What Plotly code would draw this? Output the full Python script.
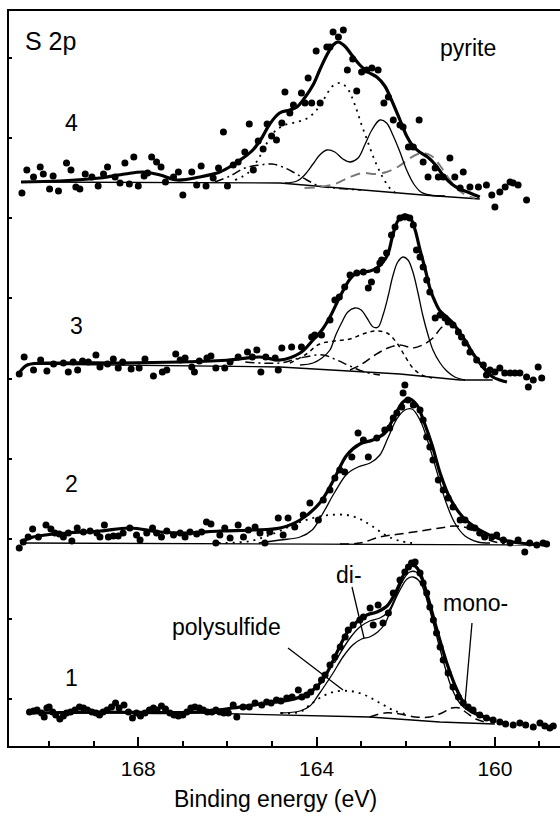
import plotly.graph_objects as go

FONT = "Liberation Sans, Arial, Helvetica, sans-serif"

# vertical stacking offsets of spectra 1..4 (intensity units)
offsets = {"1": 33, "2": 203, "3": 382, "4": 564}

# ---------------- spectrum 4 (pyrite) ----------------
s4_dots_E = [170.61,170.50,170.35,170.20,170.13,169.99,169.91,169.79,169.61,169.51,
             169.40,169.31,169.19,169.04,168.90,168.78,168.69,168.52,168.41,168.30,
             168.20,168.10,168.00,167.87,167.79,167.70,167.59,167.49,167.39,167.21,
             167.10,167.00,166.80,166.69,166.59,166.48,166.32,166.20,166.09,166.00,
             165.87,165.76,165.61,165.51,165.42,165.31,165.20,165.11,165.01,164.90,
             164.78,164.71,164.60,164.52,164.34,164.26,164.19,164.11,164.01,163.92,
             163.77,163.70,163.63,163.51,163.40,163.31,163.19,163.10,162.99,162.88,
             162.76,162.62,162.49,162.39,162.28,162.13,162.06,161.94,161.83,161.70,
             161.61,161.50,161.34,161.27,161.16,161.01,160.90,160.78,160.71,160.56,
             160.37,160.19,160.07,160.00,159.89,159.77,159.66,159.59,159.48,159.29]
s4_dots_I = [-11,12,5,15,8,-7,6,-9,19,12,
             -5,-7,8,5,-4,8,15,5,-1,19,
             -2,25,-4,6,9,25,20,15,0,5,
             10,-13,10,-3,16,-4,4,14,50,-4,
             17,20,30,58,12,41,33,58,46,42,
             59,90,69,77,89,79,104,79,131,79,
             135,135,150,145,152,112,123,91,110,112,
             114,112,79,85,62,57,55,35,35,62,
             20,5,14,5,5,24,5,-6,10,-5,
             -5,-3,-13,-25,-10,-5,0,-1,-3,-18]
s4_env_E = [170.63,169.76,168.86,168.30,167.89,167.51,167.13,166.62,166.17,165.88,
            165.65,165.43,165.23,165.05,164.83,164.60,164.44,164.27,164.08,163.93,
            163.77,163.63,163.52,163.37,163.21,163.03,162.85,162.65,162.47,162.32,
            162.13,161.98,161.84,161.69,161.51,161.33,161.17,160.97,160.79,160.56,160.34]
s4_env_I = [0,1,4,8,10,7,2,5,10,17,
            24,32,44,58,69,72,75,84,97,112,
            127,137,140,136,127,117,110,105,96,82,
            62,46,36,30,25,17,7,-2,-7,-11,-15]
s4_di_E = [164.71,164.44,164.27,164.08,163.93,163.77,163.59,163.41,163.25,163.07,162.92,
           162.76,162.58,162.43,162.29,162.13,161.98,161.82,161.66,161.46,161.12]
s4_di_I = [-1,1,7,18,27,32,30,23,20,24,37,52,62,59,47,30,12,-2,-10,-13,-14]
s4_poly_E = [165.83,165.54,165.32,165.14,164.93,164.71,164.44,164.20,164.00,163.82,
             163.64,163.46,163.30,163.14,162.99,162.85,162.70,162.52,162.32,162.13]
s4_poly_I = [2,9,22,37,51,57,60,64,72,84,96,99,93,77,57,40,22,5,-8,-13]
s4_ox_E = [166.28,165.94,165.61,165.27,165.00,164.76,164.49,164.22,163.93,163.59,163.00]
s4_ox_I = [0,6,14,17,18,15,9,2,-4,-6,-8]
s4_mono_E = [164.27,163.93,163.59,163.25,162.96,162.70,162.43,162.18,161.96,161.78,
             161.60,161.42,161.24,161.06,160.86,160.66,160.45]
s4_mono_I = [-6,-5,-2,5,9,8,10,15,22,27,29,26,17,5,-6,-13,-16]
s4_bg_E = [170.63,164.82,161.62,160.34]
s4_bg_I = [0,-1,-13,-17]

# ---------------- spectrum 3 ----------------
s3_dots_E = [170.67,170.56,170.35,170.19,170.05,169.90,169.68,169.57,169.46,169.36,
             169.25,169.12,168.95,168.86,168.69,168.56,168.45,168.35,168.16,167.98,
             167.85,167.66,167.46,167.36,167.16,167.06,166.95,166.80,166.74,166.63,
             166.46,166.37,166.26,166.06,165.94,165.76,165.55,165.44,165.34,165.25,
             165.14,164.93,164.86,164.78,164.56,164.34,164.11,164.04,163.89,163.70,
             163.59,163.49,163.37,163.25,163.10,162.95,162.84,162.77,162.65,162.58,
             162.54,162.43,162.32,162.24,162.13,162.02,161.91,161.83,161.76,161.68,
             161.61,161.53,161.46,161.34,161.23,161.12,161.05,160.94,160.82,160.75,
             160.67,160.56,160.41,160.26,160.19,160.11,160.00,159.89,159.78,159.66,
             159.55,159.44,159.29,159.25,159.14,159.03,158.95]
s3_dots_I = [-10,7,-6,4,-7,0,1,-8,2,-6,
             3,2,9,-3,0,5,-4,2,-5,-4,
             5,-12,-8,-6,10,4,6,-3,-8,3,
             6,8,-4,-4,2,7,12,7,14,-8,
             7,6,-6,16,17,17,27,29,29,44,
             64,67,77,89,91,92,76,82,94,101,
             104,111,129,137,146,147,146,139,114,107,
             97,84,72,46,49,46,42,39,32,27,
             21,12,4,-1,-11,-6,-8,-4,-9,-9,
             -9,-9,-13,-23,-16,-3,-14]
s3_env_E = [170.67,170.49,169.76,168.41,167.06,165.94,165.27,164.82,164.37,164.08,
            163.88,163.70,163.48,163.25,163.10,162.96,162.80,162.65,162.51,162.40,
            162.29,162.18,162.04,161.91,161.79,161.68,161.57,161.46,161.34,161.23,
            161.08,160.94,160.79,160.63,160.49,160.34,160.18,160.05,159.89,159.73]
s3_env_I = [-9,-1,1,1,2,4,7,4,11,24,
            34,47,67,85,91,92,93,96,102,110,
            129,143,149,147,134,114,96,76,62,53,
            47,41,31,21,10,1,-8,-13,-16,-18]
s3_di_E = [164.37,164.08,163.88,163.70,163.57,163.43,163.30,163.14,163.00,162.87,
           162.73,162.62,162.51,162.40,162.29,162.18,162.06,161.95,161.84,161.73,
           161.62,161.50,161.39,161.23,161.08,160.90,160.67]
s3_di_I = [-1,1,6,14,29,42,52,56,54,46,
           37,37,49,67,88,102,107,104,92,72,
           49,29,14,1,-7,-13,-16]
s3_poly_E = [164.60,164.26,163.93,163.59,163.25,162.96,162.69,162.42,162.20,162.02,161.84,161.64,161.41]
s3_poly_I = [1,9,20,23,25,30,33,31,21,8,-4,-11,-14]
s3_mono_E = [163.25,162.98,162.69,162.40,162.13,161.84,161.62,161.39,161.21,161.05,
             160.90,160.74,160.56,160.38,160.18,160.00]
s3_mono_I = [-6,0,9,16,19,16,19,26,36,41,40,28,16,5,-6,-14]
s3_ox_E = [165.60,164.82,164.37,163.86,163.55,163.25,162.92,162.58]
s3_ox_I = [2,1,6,9,4,-2,-8,-11]
s3_bg_E = [170.49,164.82,162.13,160.78,160.05]
s3_bg_I = [0,-3,-10,-16,-16]

# ---------------- spectrum 2 ----------------
s2_dots_E = [170.67,170.58,170.47,170.37,170.24,170.07,169.96,169.87,169.77,169.68,
             169.57,169.49,169.37,169.23,169.08,168.93,168.86,168.76,168.67,168.56,
             168.45,168.34,168.19,168.04,167.96,167.81,167.68,167.59,167.48,167.36,
             167.21,167.06,166.95,166.84,166.69,166.58,166.47,166.37,166.26,166.17,
             166.06,165.94,165.76,165.64,165.53,165.38,165.27,165.16,165.05,164.86,
             164.75,164.64,164.49,164.30,164.15,163.96,163.85,163.70,163.59,
             163.48,163.37,163.21,163.07,162.95,162.84,162.65,162.47,162.36,162.28,
             162.20,162.09,162.06,162.02,161.95,161.83,161.68,161.61,161.53,161.46,
             161.39,161.27,161.16,161.05,160.94,160.78,160.67,160.56,160.45,160.34,
             160.23,160.07,159.96,159.81,159.66,159.48,159.33,159.22,159.06,158.92,
             158.84]
s2_dots_I = [-5,1,6,14,6,18,14,10,9,6,
             10,2,15,11,12,10,6,18,6,7,
             7,10,15,8,3,10,15,10,6,12,
             8,10,6,11,9,11,21,19,0,8,
             15,5,18,6,13,16,10,0,11,25,
             8,25,16,28,40,23,43,53,65,
             73,71,86,110,103,86,105,113,115,125,
             130,136,150,158,143,138,133,123,106,96,
             83,63,53,45,36,23,23,16,15,10,
             6,6,8,3,0,3,-9,0,-2,0,
             -1]
s2_env_E = [170.65,170.36,169.60,168.86,168.19,167.51,166.91,166.17,165.43,164.82,
            164.37,163.93,163.63,163.32,163.03,162.74,162.47,162.24,162.06,161.91,
            161.75,161.59,161.41,161.23,161.01,160.72,160.34,159.89,159.44,158.83]
s2_env_I = [1,6,10,12,15,11,10,12,13,15,
            23,40,62,88,99,103,110,128,141,144,
            138,121,98,70,45,26,13,4,0,-2]
s2_di_E = [165.30,164.82,164.37,164.10,163.88,163.59,163.32,163.07,162.80,162.58,162.40,
           162.20,162.02,161.86,161.68,161.50,161.30,161.10,160.90,160.67,160.38,160.11]
s2_di_I = [0,3,6,13,28,51,69,76,80,88,105,124,133,134,123,101,71,41,20,7,1,0]
s2_poly_E = [166.20,165.49,164.93,164.48,164.08,163.70,163.32,163.03,162.76,162.42,162.13,161.86]
s2_poly_I = [0,2,10,19,25,28,28,24,17,7,2,0]
s2_mono_E = [163.48,163.03,162.58,162.13,161.68,161.23,160.90,160.61,160.34,160.07,159.78]
s2_mono_I = [-1,0,6,9,12,15,17,15,8,2,-1]
s2_bg_E = [170.65,158.83]
s2_bg_I = [0,-2]

# ---------------- spectrum 1 ----------------
s1_dots_E = [170.44,170.35,170.27,170.17,170.11,170.05,170.00,169.92,169.85,169.76,
             169.68,169.61,169.52,169.42,169.32,169.23,169.14,169.04,168.95,168.87,
             168.79,168.70,168.60,168.51,168.43,168.32,168.22,168.13,168.04,167.95,
             167.85,167.75,167.66,167.58,167.48,167.39,167.29,167.20,167.10,167.00,
             166.91,166.82,166.73,166.63,166.54,166.45,166.35,166.26,166.17,166.08,
             165.98,165.87,165.79,165.65,165.51,165.38,165.23,165.12,165.02,164.90,
             164.80,164.67,164.55,164.41,164.33,164.22,164.13,164.00,163.89,163.81,
             163.70,163.59,163.47,163.36,163.29,163.18,163.03,162.95,162.80,162.73,
             162.62,162.51,162.39,162.28,162.13,162.02,161.94,161.87,161.79,161.68,
             161.61,161.53,161.46,161.38,161.31,161.23,161.16,161.05,160.94,160.82,
             160.71,160.60,160.49,160.34,160.19,160.04,159.89,159.76,159.59,159.44,
             159.31,159.14,158.99,158.88,158.77,158.69]
s1_dots_I = [1,2,3,0,-4,5,6,1,-2,-6,
             -3,0,1,3,6,5,3,1,0,-2,
             1,3,6,10,5,8,1,-5,0,-3,
             0,3,5,3,7,4,0,-2,-3,-2,
             1,5,6,5,3,1,1,3,1,0,
             0,8,-4,6,6,10,8,11,10,13,
             12,15,16,23,16,18,21,26,33,38,
             48,56,66,76,83,88,93,96,105,88,
             108,90,100,120,133,141,146,150,151,140,
             130,120,106,93,80,66,53,40,26,16,
             10,6,3,-2,-5,-7,-9,-11,-12,-10,
             -12,-14,-10,-13,-15,-13]
s1_env_E = [170.43,168.86,166.62,165.88,165.11,164.60,164.26,164.00,163.77,163.55,
            163.32,163.10,162.87,162.65,162.42,162.20,162.04,161.91,161.79,161.68,
            161.53,161.30,161.08,160.85,160.63,160.34,160.05]
s1_env_I = [0,1,1,5,10,13,18,26,40,60,
            80,91,98,101,107,123,139,147,147,140,
            120,83,50,23,6,-2,-7]
s1_di_E = [164.82,164.37,164.15,163.93,163.63,163.41,163.19,162.99,162.81,162.63,
           162.47,162.31,162.13,161.97,161.84,161.68,161.50,161.32,161.14,160.97,
           160.79,160.56,160.22]
s1_di_I = [0,2,7,20,40,56,68,74,76,81,
           89,106,123,134,136,131,109,79,49,25,
           10,1,-5]
s1_sum_E = [163.60,163.25,163.03,162.81,162.58,162.40,162.22,162.06,161.91,161.77,
            161.64,161.46,161.23,161.01,160.79,160.56]
s1_sum_I = [50,75,86,92,95,101,117,133,141,141,133,107,73,41,15,3]
s1_poly_E = [164.80,164.37,164.15,163.93,163.63,163.25,162.92,162.58,162.24,161.91]
s1_poly_I = [0,1,8,15,21,22,18,10,2,-2]
s1_mono_E = [162.81,162.47,162.13,161.79,161.46,161.19,160.97,160.79,160.63,160.43,160.22]
s1_mono_I = [-4,0,-1,-4,-4,0,5,5,0,-6,-9]
s1_bg_E = [170.43,166.62,162.81,161.24,160.00]
s1_bg_I = [0,0,-4,-9,-11]

# axis ticks
x_major = [168, 164, 160]
x_major_text = ["168", "164", "160"]
x_minor = [170, 169, 167, 166, 165, 163, 162, 161, 159]
y_ticks = [47, 127, 207, 287, 367, 448, 528, 608, 688]

DOT = "2px,5px"
SHORT = "4px,4px"
DASH = "9px,5px"
DASHDOT = "9px,4px,2px,4px"

fig = go.Figure()


def add_line(E, I, key, width=1.3, dash="solid", color="black", shape="spline"):
    off = offsets[key]
    fig.add_trace(go.Scatter(
        x=E, y=[off + v for v in I], mode="lines",
        line=dict(color=color, width=width, dash=dash, shape=shape, smoothing=1.0),
        hoverinfo="skip", showlegend=False))


def add_dots(E, I, key, size=7):
    off = offsets[key]
    fig.add_trace(go.Scatter(
        x=E, y=[off + v for v in I], mode="markers",
        marker=dict(size=size, color="black", line=dict(width=0)),
        hoverinfo="skip", showlegend=False))


# spectrum 4
add_line(s4_bg_E, s4_bg_I, "4", 1.3, shape="linear")
add_line(s4_ox_E, s4_ox_I, "4", 1.5, DASHDOT)
add_line(s4_poly_E, s4_poly_I, "4", 1.8, DOT)
add_line(s4_mono_E, s4_mono_I, "4", 2.0, "10px,6px", color="#7a7a7a")
add_line(s4_di_E, s4_di_I, "4", 1.3)
add_line(s4_env_E, s4_env_I, "4", 3.2)
add_dots(s4_dots_E, s4_dots_I, "4")

# spectrum 3
add_line(s3_bg_E, s3_bg_I, "3", 1.3, shape="linear")
add_line(s3_ox_E, s3_ox_I, "3", 1.5, DASHDOT)
add_line(s3_poly_E, s3_poly_I, "3", 1.5, SHORT)
add_line(s3_mono_E, s3_mono_I, "3", 1.5, DASH)
add_line(s3_di_E, s3_di_I, "3", 1.3)
add_line(s3_env_E, s3_env_I, "3", 3.2)
add_dots(s3_dots_E, s3_dots_I, "3")

# spectrum 2
add_line(s2_bg_E, s2_bg_I, "2", 1.3, shape="linear")
add_line(s2_poly_E, s2_poly_I, "2", 1.8, DOT)
add_line(s2_mono_E, s2_mono_I, "2", 1.5, DASH)
add_line(s2_di_E, s2_di_I, "2", 1.3)
add_line(s2_env_E, s2_env_I, "2", 3.2)
add_dots(s2_dots_E, s2_dots_I, "2")

# spectrum 1
add_line(s1_bg_E, s1_bg_I, "1", 1.3, shape="linear")
add_line(s1_poly_E, s1_poly_I, "1", 1.8, DOT)
add_line(s1_mono_E, s1_mono_I, "1", 1.5, DASH)
add_line(s1_di_E, s1_di_I, "1", 1.3)
add_line(s1_sum_E, s1_sum_I, "1", 1.3)
add_line(s1_env_E, s1_env_I, "1", 3.2)
add_dots(s1_dots_E, s1_dots_I, "1")

# geometry helpers: plot area is x 9..560 px, y 11..746 px
def px(xp):
    return (xp - 9) / 551.0


def py(yp):
    return (746 - yp) / 735.0


annotations = []


def label(text, xp, yp, size=23, anchor="center"):
    annotations.append(dict(text=text, x=px(xp), y=py(yp), xref="paper", yref="paper",
                            xanchor=anchor, yanchor="middle", showarrow=False,
                            font=dict(family=FONT, size=size, color="black")))


label("S 2p", 23, 41, 25, "left")
label("4", 71, 123, 23)
label("3", 76, 326, 23)
label("2", 71, 484, 23)
label("1", 71, 678, 23)
label("pyrite", 468, 48, 23)
label("polysulfide", 226, 627, 23)
label("di-", 349, 575, 23)
label("mono-", 475, 603, 23)
label("Binding energy (eV)", 275, 799, 23)

shapes = []


def leader(x0, y0, x1, y1):
    shapes.append(dict(type="line", xref="paper", yref="paper",
                       x0=px(x0), y0=py(y0), x1=px(x1), y1=py(y1),
                       line=dict(color="black", width=1.3)))


leader(352, 587, 364, 638)
leader(472, 623, 465, 703)
leader(288, 648, 343, 690)

fig.update_layout(
    width=560, height=818,
    margin=dict(l=9, r=0, t=11, b=72),
    paper_bgcolor="white", plot_bgcolor="white",
    showlegend=False,
    annotations=annotations, shapes=shapes,
    font=dict(family=FONT, color="black"),
    xaxis=dict(range=[170.90, 158.54], showgrid=False, zeroline=False,
               showline=True, linewidth=2, linecolor="black", mirror=True,
               ticks="inside", ticklen=9, tickwidth=2, tickcolor="black",
               tickvals=x_major, ticktext=x_major_text, ticklabelstandoff=3,
               tickfont=dict(family=FONT, size=21, color="black"),
               minor=dict(tickvals=x_minor, ticks="inside", ticklen=5,
                          tickwidth=1.5, tickcolor="black")),
    yaxis=dict(range=[0, 735], showgrid=False, zeroline=False,
               showline=True, linewidth=2, linecolor="black", mirror=False,
               ticks="inside", ticklen=3, tickwidth=1.5, tickcolor="black",
               tickvals=y_ticks, showticklabels=False),
)

fig.write_html("out.html")
